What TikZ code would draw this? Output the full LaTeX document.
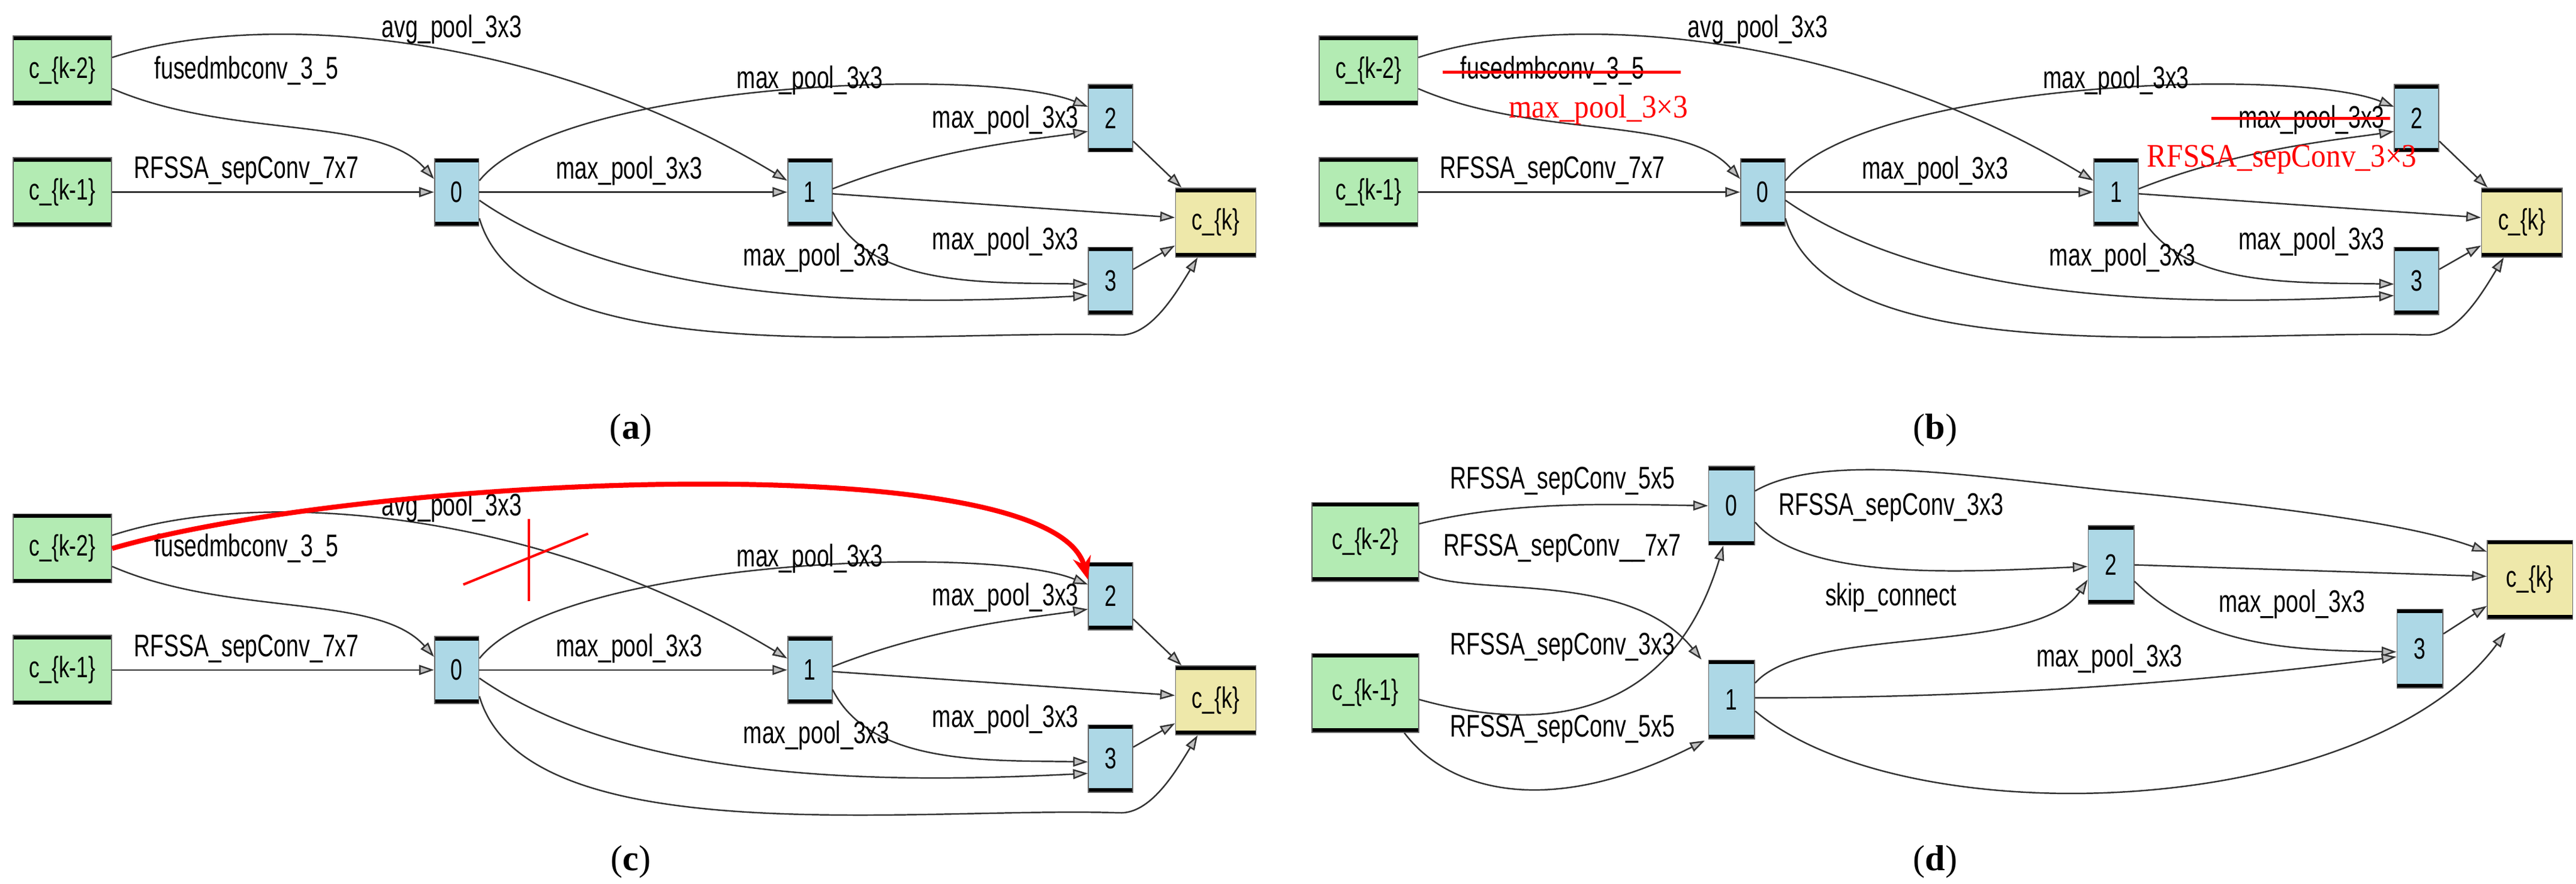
\documentclass[tikz,border=0pt]{standalone}
\usepackage{fontspec}
\setmainfont{Liberation Sans}[FakeStretch=0.72]
\newfontfamily\capfont{Liberation Serif}
\newfontfamily\redfont{Liberation Serif}[FakeStretch=0.9]
\usetikzlibrary{arrows.meta,calc}
\definecolor{ngreen}{HTML}{B3EBB3}
\definecolor{nblue}{HTML}{ADD8E6}
\definecolor{nyel}{HTML}{EEE8AA}
\definecolor{edg}{HTML}{333333}
\tikzset{
  base/.style={draw=black!60,line width=0.6pt,inner sep=0pt,font=\fontsize{18}{20}\selectfont,
    path picture={\draw[line width=5pt,black] (path picture bounding box.north west)--(path picture bounding box.north east);
                  \draw[line width=5pt,black] (path picture bounding box.south west)--(path picture bounding box.south east);}},
  inp/.style={base,fill=ngreen,minimum width=60pt,minimum height=42pt},
  op/.style={base,fill=nblue,minimum width=27pt,minimum height=41pt},
  outn/.style={base,fill=nyel,minimum width=49pt,minimum height=42pt},
  e/.style={draw=edg,line width=0.9pt,-{Triangle[length=9pt,width=6pt,fill=black!25]}},
  lb/.style={font=\fontsize{19}{21}\selectfont,inner sep=0pt},
  redt/.style={text=red,font=\redfont\fontsize{20}{22}\selectfont,inner sep=0pt},
  capt/.style={font=\capfont\fontsize{22}{26}\selectfont}
}
\newcommand\mypanel[3]{%
\begin{scope}[shift={(#2,#3)}]
\node[inp] (#1k2) at (38,43) {c\_\{k-2\}};
\node[inp] (#1k1) at (38,117) {c\_\{k-1\}};
\node[op] (#10) at (278,117) {0};
\node[op] (#11) at (493,117) {1};
\node[op] (#12) at (676,72) {2};
\node[op] (#13) at (676,171) {3};
\node[outn] (#1k) at (740,135.5) {c\_\{k\}};
\draw[e] ($(#1k2.east)+(0,-8)$) .. controls (160,5) and (330,20) .. ($(#11.west)+(0,-7)$);
\draw[e] ($(#1k2.east)+(0,11)$) .. controls (140,85) and (230,70) .. ($(#10.west)+(0,-8)$);
\draw[e] (#1k1) -- (#10);
\draw[e] (#10) -- (#11);
\draw[e] ($(#10.east)+(0,-7)$) .. controls (340,50) and (600,40) .. ($(#12.west)+(0,-7)$);
\draw[e] ($(#11.east)+(0,-2)$) .. controls (570,90) and (630,85) .. ($(#12.west)+(0,8)$);
\draw[e] ($(#11.east)+(0,1)$) -- ($(#1k.west)+(0,-3)$);
\draw[e] ($(#11.east)+(0,12)$) .. controls (530,175) and (600,172) .. ($(#13.west)+(0,2)$);
\draw[e] ($(#10.east)+(0,5)$) .. controls (390,190) and (560,185) .. ($(#13.west)+(0,9)$);
\draw[e] ($(#10.east)+(0,16)$) .. controls (320,230) and (560,200) .. (681,204) .. controls (700,205) and (715,180) .. ($(#1k.south)+(-11,0)$);
\draw[e] ($(#12.east)+(0,14)$) -- ($(#1k.north west)+(4,0)$);
\draw[e] ($(#13.east)+(0,-7)$) -- ($(#1k.west)+(0,14)$);
\node[lb] (#1la) at (275,18) {avg\_pool\_3x3};
\node[lb] (#1lb) at (150,43) {fusedmbconv\_3\_5};
\node[lb] (#1lc) at (150,104) {RFSSA\_sepConv\_7x7};
\node[lb] (#1ld) at (493,49) {max\_pool\_3x3};
\node[lb] (#1le) at (612,73) {max\_pool\_3x3};
\node[lb] (#1lf) at (383,104) {max\_pool\_3x3};
\node[lb] (#1lg) at (497,157) {max\_pool\_3x3};
\node[lb] (#1lh) at (612,147) {max\_pool\_3x3};
\end{scope}}
\begin{document}
\begin{tikzpicture}[x=1pt,y=-1pt]
\useasboundingbox[fill=white] (0,0) rectangle (1568,538);
\mypanel{a}{0}{0}
\mypanel{b}{795}{0}
\mypanel{c}{0}{291}
% panel b edits
\draw[red,line width=2pt] (878,44) -- (1023,44);
\node[redt] (bm) at (973,67) {max\_pool\_3×3};
\draw[red,line width=2pt] (1346,72) -- (1455,72);
\node[redt] (br) at (1389,97) {RFSSA\_sepConv\_3×3};
% panel c edits
\draw[red,line width=3pt,-{Stealth[length=14pt,width=11pt]}] (ck2.east) .. controls (220,290) and (640,270) .. ($(c2.west)+(0,-10)$);
\draw[red,line width=1.5pt] (322,316) -- (322,366);
\draw[red,line width=1.5pt] (282,356) -- (358,325);
% panel d
\node[inp,minimum width=65pt,minimum height=48pt] (dk2) at (831,330) {c\_\{k-2\}};
\node[inp,minimum width=65pt,minimum height=48pt] (dk1) at (831,422) {c\_\{k-1\}};
\node[op,minimum width=28pt,minimum height=48pt] (d0) at (1054,308) {0};
\node[op,minimum width=28pt,minimum height=48pt] (d1) at (1054,426) {1};
\node[op,minimum width=28pt,minimum height=48pt] (d2) at (1285,344) {2};
\node[op,minimum width=28pt,minimum height=48pt] (d3) at (1473,395) {3};
\node[outn,minimum width=52pt,minimum height=48pt] (dk) at (1540,353) {c\_\{k\}};
\draw[e] ($(dk2.east)+(0,-11)$) .. controls (920,305) and (980,307) .. (d0.west);
\draw[e] ($(dk2.east)+(0,18)$) .. controls (890,365) and (990,345) .. ($(d1.north west)+(-4,0)$);
\draw[e] ($(dk1.east)+(0,4)$) .. controls (950,450) and (1020,430) .. ($(d0.south)+(-5,0)$);
\draw[e] ($(dk1.south east)+(-9,0)$) .. controls (880,480) and (940,500) .. ($(d1.west)+(-2,25)$);
\draw[e] ($(d0.east)+(0,-9)$) .. controls (1110,275) and (1200,290) .. (1287,299) .. controls (1400,310) and (1470,320) .. ($(dk.west)+(0,-17)$);
\draw[e] ($(d0.east)+(0,10)$) .. controls (1100,355) and (1200,348) .. ($(d2.west)+(0,1)$);
\draw[e] (d2.east) -- ($(dk.west)+(0,-2)$);
\draw[e] ($(d2.east)+(0,10)$) .. controls (1340,395) and (1400,396) .. ($(d3.west)+(0,2)$);
\draw[e] ($(d1.east)+(0,-10)$) .. controls (1100,380) and (1240,400) .. ($(d2.west)+(0,9)$);
\draw[e] ($(d1.east)+(0,-1)$) .. controls (1250,425) and (1380,410) .. ($(d3.west)+(0,5)$);
\draw[e] ($(d1.east)+(0,7)$) .. controls (1160,510) and (1440,500) .. ($(dk.south)+(-15,8)$);
\draw[e] ($(d3.east)+(0,-9)$) -- ($(dk.west)+(0,16)$);
\node[lb] (dla) at (951,293) {RFSSA\_sepConv\_5x5};
\node[lb] (dlb) at (951,334) {RFSSA\_sepConv\_\_7x7};
\node[lb] (dlc) at (1151,309) {RFSSA\_sepConv\_3x3};
\node[lb] (dld) at (1151,364) {skip\_connect};
\node[lb] (dle) at (1395,368) {max\_pool\_3x3};
\node[lb] (dlf) at (1284,401) {max\_pool\_3x3};
\node[lb] (dlg) at (951,394) {RFSSA\_sepConv\_3x3};
\node[lb] (dlh) at (951,444) {RFSSA\_sepConv\_5x5};
% captions
\node[capt] (ca) at (384,262) {(\textbf{a})};
\node[capt] (cb) at (1178,262) {(\textbf{b})};
\node[capt] (cc) at (384,525) {(\textbf{c})};
\node[capt] (cd) at (1178,525) {(\textbf{d})};
\end{tikzpicture}
\end{document}
